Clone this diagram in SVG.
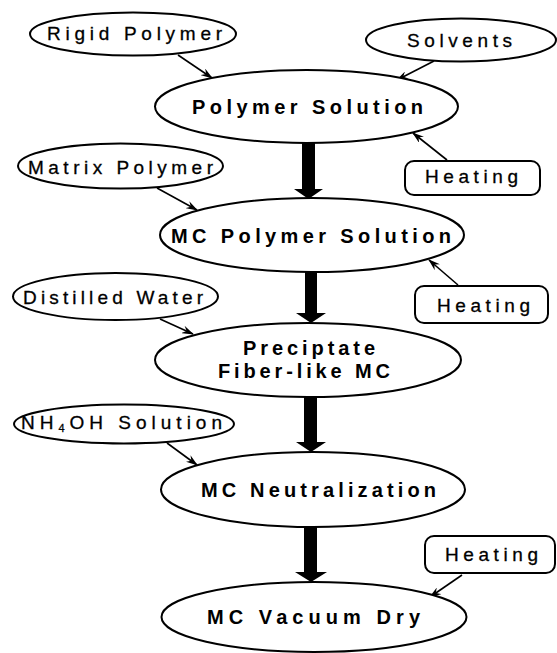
<svg xmlns="http://www.w3.org/2000/svg" width="557" height="653" viewBox="0 0 557 653">
<defs>
<style>
.n{fill:#fff;stroke:#000;stroke-width:2}
.t{font-family:"Liberation Sans",Arial,sans-serif;font-size:19px;fill:#000;text-anchor:middle;stroke:#000;stroke-width:0.3}
.b{font-weight:bold;font-size:20px;stroke-width:0}
.c{stroke:#000;stroke-width:1.6;fill:none;marker-end:url(#ah)}
.k{fill:#000;stroke:none}
</style>
<marker id="ah" viewBox="0 0 12 8" refX="11" refY="4" markerWidth="12" markerHeight="8" markerUnits="userSpaceOnUse" orient="auto">
<path d="M0,0 L12,4 L0,8 L4,4 z" fill="#000"/>
</marker>
</defs>
<rect width="557" height="653" fill="#fff"/>
<g id="connectors">
<line class="c" x1="178" y1="55" x2="212" y2="78"/>
<line class="c" x1="434" y1="61" x2="397" y2="80"/>
<line class="c" x1="447" y1="160" x2="413" y2="133"/>
<line class="c" x1="157" y1="188" x2="197" y2="210"/>
<line class="c" x1="458" y1="285" x2="429" y2="260"/>
<line class="c" x1="160" y1="319" x2="193" y2="334"/>
<line class="c" x1="167" y1="443" x2="197" y2="465"/>
<line class="c" x1="462" y1="575" x2="430" y2="597"/>
<polygon class="k" points="302,142 315,142 315,189 323,189 308.5,199 294,189 302,189"/>
<polygon class="k" points="305,272 317,272 317,313 326,313 311,323 296,313 305,313"/>
<polygon class="k" points="304,397 317,397 317,442 326,442 311,452 296,442 304,442"/>
<polygon class="k" points="304,527 317,527 317,572 327,572 311,582 295,572 304,572"/>
</g>
<g id="rigid-polymer">
<ellipse class="n" cx="133" cy="34" rx="103" ry="21.5"/>
<text class="t" x="134.5" y="40" textLength="175" lengthAdjust="spacing">Rigid Polymer</text>
</g>
<g id="solvents">
<ellipse class="n" cx="461" cy="40" rx="95" ry="21.5"/>
<text class="t" x="459.5" y="46.5" textLength="105" lengthAdjust="spacing">Solvents</text>
</g>
<g id="polymer-solution">
<ellipse class="n" cx="306.5" cy="106.5" rx="151.5" ry="36.5"/>
<text class="t b" x="307.5" y="113.5" textLength="231" lengthAdjust="spacing">Polymer Solution</text>
</g>
<g id="matrix-polymer">
<ellipse class="n" cx="120.5" cy="166" rx="102.5" ry="22.5"/>
<text class="t" x="120.5" y="173.5" textLength="185" lengthAdjust="spacing">Matrix Polymer</text>
</g>
<g id="heating-1">
<rect class="n" x="405" y="161" width="135" height="34" rx="9"/>
<text class="t" x="471.5" y="182.5" textLength="93" lengthAdjust="spacing">Heating</text>
</g>
<g id="mc-polymer-solution">
<ellipse class="n" cx="312" cy="235" rx="152" ry="37"/>
<text class="t b" x="311" y="242.5" textLength="280" lengthAdjust="spacing">MC Polymer Solution</text>
</g>
<g id="distilled-water">
<ellipse class="n" cx="115.5" cy="296.5" rx="102.5" ry="23.5"/>
<text class="t" x="113" y="303.5" textLength="180" lengthAdjust="spacing">Distilled Water</text>
</g>
<g id="heating-2">
<rect class="n" x="415" y="286" width="133" height="37" rx="9"/>
<text class="t" x="483.5" y="311.5" textLength="93" lengthAdjust="spacing">Heating</text>
</g>
<g id="precipitate">
<ellipse class="n" cx="308" cy="360" rx="153" ry="37"/>
<text class="t b" x="309" y="355" textLength="132" lengthAdjust="spacing">Preciptate</text>
<text class="t b" x="304" y="377.5" textLength="172" lengthAdjust="spacing">Fiber-like MC</text>
</g>
<g id="nh4oh-solution">
<ellipse class="n" cx="124" cy="424" rx="110" ry="19.5"/>
<text class="t" x="121.5" y="429" textLength="201" lengthAdjust="spacing">NH<tspan font-size="11" baseline-shift="-3">4</tspan>OH Solution</text>
</g>
<g id="mc-neutralization">
<ellipse class="n" cx="313" cy="489.5" rx="152" ry="37.5"/>
<text class="t b" x="318.5" y="497" textLength="235" lengthAdjust="spacing">MC Neutralization</text>
</g>
<g id="heating-3">
<rect class="n" x="425" y="536" width="130" height="37" rx="9"/>
<text class="t" x="491.5" y="561" textLength="93" lengthAdjust="spacing">Heating</text>
</g>
<g id="mc-vacuum-dry">
<ellipse class="n" cx="314" cy="617" rx="152.5" ry="35"/>
<text class="t b" x="313.5" y="623.5" textLength="213" lengthAdjust="spacing">MC Vacuum Dry</text>
</g>
</svg>
